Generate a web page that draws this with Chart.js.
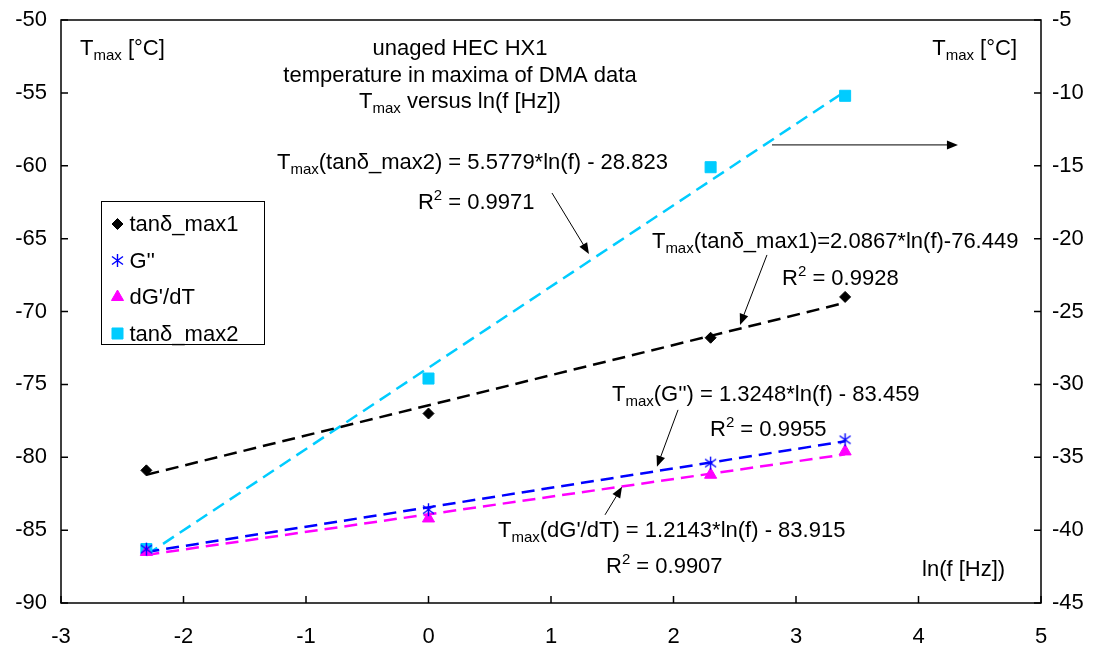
<!DOCTYPE html>
<html>
<head>
<meta charset="utf-8">
<title>unaged HEC HX1</title>
<script src="https://cdn.jsdelivr.net/npm/chart.js@4.4.0/dist/chart.umd.min.js"></script>
<style>
    body { margin: 0; background: #ffffff; }
</style>
</head>
<body>
<canvas id="myChart" width="1094" height="650"></canvas>
<script>
// ln(f) of the measured frequencies (0.1, 1, 10, 30 Hz)
var lnF = [-2.303, 0, 2.303, 3.401];

// Tmax values (left axis)
var tanD1 = [-80.9, -77.0, -71.8, -69.0];
var gTwo = [-86.3, -83.6, -80.4, -78.8];
var dGdT = [-86.5, -84.2, -81.2, -79.6];
// tanδ_max2 belongs to the right axis
var tanD2 = [-41.3, -29.6, -15.1, -10.2];

// trend line end points
var trendX = [-2.303, 3.401];
var trendTanD1 = [-81.2, -69.4];
var trendG = [-86.5, -78.9];
var trendDG = [-86.7, -79.8];
var trendTanD2 = [-41.7, -9.9];

// tick labels
var xTicks = [-3, -2, -1, 0, 1, 2, 3, 4, 5];
var yLeftTicks = [-90, -85, -80, -75, -70, -65, -60, -55, -50];
var yRightTicks = [-45, -40, -35, -30, -25, -20, -15, -10, -5];

var seriesNames = ['tanδ_max1', "G''", "dG'/dT", 'tanδ_max2'];

var FONT = '"Liberation Sans", Arial, sans-serif';

// texto das anotações (posição em unidades do gráfico)
// modo: 0 normal, 1 subscrito, 2 sobrescrito
var notes = [
    { x: -2.845, y: -52.40, align: 'left', parts: [['T', 0], ['max', 1], [' [°C]', 0]] },
    { x: 4.804, y: -52.40, align: 'right', parts: [['T', 0], ['max', 1], [' [°C]', 0]] },
    { x: 0.257, y: -52.40, align: 'center', parts: [['unaged HEC HX1', 0]] },
    { x: 0.257, y: -54.25, align: 'center', parts: [['temperature in maxima of DMA data', 0]] },
    { x: 0.257, y: -56.04, align: 'center', parts: [['T', 0], ['max', 1], [' versus ln(f [Hz])', 0]] },
    { x: -1.237, y: -60.22, align: 'left', parts: [['T', 0], ['max', 1], ['(tanδ_max2) = 5.5779*ln(f) - 28.823', 0]] },
    { x: -0.086, y: -62.96, align: 'left', parts: [['R', 0], ['2', 2], [' = 0.9971', 0]] },
    { x: 1.824, y: -65.64, align: 'left', parts: [['T', 0], ['max', 1], ['(tanδ_max1)=2.0867*ln(f)-76.449', 0]] },
    { x: 2.886, y: -68.18, align: 'left', parts: [['R', 0], ['2', 2], [' = 0.9928', 0]] },
    { x: 1.498, y: -76.13, align: 'left', parts: [['T', 0], ['max', 1], ["(G'') = 1.3248*ln(f) - 83.459", 0]] },
    { x: 2.298, y: -78.53, align: 'left', parts: [['R', 0], ['2', 2], [' = 0.9955', 0]] },
    { x: 0.567, y: -85.46, align: 'left', parts: [['T', 0], ['max', 1], ["(dG'/dT) = 1.2143*ln(f) - 83.915", 0]] },
    { x: 1.449, y: -87.93, align: 'left', parts: [['R', 0], ['2', 2], [' = 0.9907', 0]] },
    { x: 4.029, y: -88.13, align: 'left', parts: [['ln(f [Hz])', 0]] }
];

// setas: [x1, y1, x2, y2] em unidades do gráfico (eixo esquerdo)
var arrows = [
    [1.008, -61.87, 1.310, -66.05],
    [2.763, -66.12, 2.543, -70.92],
    [2.037, -76.75, 1.865, -80.66],
    [1.441, -83.95, 1.580, -82.03],
    [2.804, -58.57, 4.322, -58.57]
];

// canto superior esquerdo da legenda
var legendAt = { x: -2.673, y: -62.41 };

function makePoints(xs, ys) {
    return xs.map(function (x, i) { return { x: x, y: ys[i] }; });
}

// marcador "asterisco" para G''
function makeStar(color) {
    var c = document.createElement('canvas');
    c.width = 15;
    c.height = 15;
    var g = c.getContext('2d');
    g.strokeStyle = color;
    g.lineWidth = 1.4;
    g.beginPath();
    g.moveTo(7.5, 1); g.lineTo(7.5, 14);
    g.moveTo(2, 3.5); g.lineTo(13, 11.5);
    g.moveTo(2, 11.5); g.lineTo(13, 3.5);
    g.stroke();
    return c;
}

var starIcon = makeStar('#0000ff');

function drawRich(ctx, parts, x, y, align) {
    var w = 0;
    parts.forEach(function (p) {
        ctx.font = (p[1] ? '15px ' : '22px ') + FONT;
        w += ctx.measureText(p[0]).width;
    });
    var cx = x;
    if (align === 'center') cx = x - w / 2;
    if (align === 'right') cx = x - w;
    ctx.textAlign = 'left';
    ctx.textBaseline = 'alphabetic';
    parts.forEach(function (p) {
        ctx.font = (p[1] ? '15px ' : '22px ') + FONT;
        var dy = p[1] === 1 ? 5 : (p[1] === 2 ? -9 : 0);
        ctx.fillText(p[0], cx, y + dy);
        cx += ctx.measureText(p[0]).width;
    });
}

function drawArrow(ctx, x1, y1, x2, y2) {
    var ang = Math.atan2(y2 - y1, x2 - x1);
    var len = 11, half = 4.5;
    ctx.beginPath();
    ctx.moveTo(x1, y1);
    ctx.lineTo(x2 - Math.cos(ang) * len * 0.8, y2 - Math.sin(ang) * len * 0.8);
    ctx.stroke();
    ctx.beginPath();
    ctx.moveTo(x2, y2);
    ctx.lineTo(x2 - Math.cos(ang) * len + Math.sin(ang) * half, y2 - Math.sin(ang) * len - Math.cos(ang) * half);
    ctx.lineTo(x2 - Math.cos(ang) * len - Math.sin(ang) * half, y2 - Math.sin(ang) * len + Math.cos(ang) * half);
    ctx.closePath();
    ctx.fill();
}

var decorPlugin = {
    id: 'decor',
    afterDraw: function (chart) {
        var ctx = chart.ctx;
        var area = chart.chartArea;
        var sx = chart.scales.x, sy = chart.scales.y, sy1 = chart.scales.y1;
        ctx.save();

        // moldura do gráfico
        ctx.strokeStyle = '#000000';
        ctx.lineWidth = 1.5;
        ctx.strokeRect(area.left, area.top, area.right - area.left, area.bottom - area.top);

        // marcas dos eixos (para dentro)
        ctx.beginPath();
        sx.ticks.forEach(function (t) {
            var p = sx.getPixelForValue(t.value);
            ctx.moveTo(p, area.bottom);
            ctx.lineTo(p, area.bottom - 7);
        });
        sy.ticks.forEach(function (t) {
            var p = sy.getPixelForValue(t.value);
            ctx.moveTo(area.left, p);
            ctx.lineTo(area.left + 7, p);
        });
        sy1.ticks.forEach(function (t) {
            var p = sy1.getPixelForValue(t.value);
            ctx.moveTo(area.right, p);
            ctx.lineTo(area.right - 7, p);
        });
        ctx.stroke();

        // textos
        ctx.fillStyle = '#000000';
        notes.forEach(function (n) {
            drawRich(ctx, n.parts, sx.getPixelForValue(n.x), sy.getPixelForValue(n.y), n.align);
        });

        // setas
        ctx.lineWidth = 1;
        arrows.forEach(function (a) {
            drawArrow(ctx, sx.getPixelForValue(a[0]), sy.getPixelForValue(a[1]),
                sx.getPixelForValue(a[2]), sy.getPixelForValue(a[3]));
        });

        // legenda
        var lx = Math.round(sx.getPixelForValue(legendAt.x)) + 0.5;
        var ly = Math.round(sy.getPixelForValue(legendAt.y)) + 0.5;
        ctx.fillStyle = '#ffffff';
        ctx.fillRect(lx, ly, 163, 143);
        ctx.strokeStyle = '#000000';
        ctx.lineWidth = 1;
        ctx.strokeRect(lx, ly, 163, 143);
        for (var i = 0; i < 4; i++) {
            var ds = chart.data.datasets[i];
            var cy = ly + 22.5 + i * 36.5;
            ctx.fillStyle = ds.backgroundColor;
            ctx.strokeStyle = ds.borderColor;
            Chart.helpers.drawPoint(ctx, {
                pointStyle: ds.pointStyle,
                radius: ds.pointRadius,
                rotation: 0,
                borderWidth: 1
            }, lx + 16, cy);
            ctx.fillStyle = '#000000';
            ctx.font = '22px ' + FONT;
            ctx.textAlign = 'left';
            ctx.textBaseline = 'middle';
            ctx.fillText(seriesNames[i], lx + 28, cy + 1);
        }
        ctx.restore();
    }
};

function pointSet(label, xs, ys, color, style, radius, axis) {
    return {
        type: 'scatter',
        label: label,
        data: makePoints(xs, ys),
        yAxisID: axis,
        backgroundColor: color,
        borderColor: color,
        pointStyle: style,
        pointRadius: radius,
        pointBorderWidth: 1,
        showLine: false,
        order: 0
    };
}

function trendSet(label, ys, color, axis) {
    return {
        type: 'line',
        label: label,
        data: makePoints(trendX, ys),
        yAxisID: axis,
        borderColor: color,
        borderWidth: 2.5,
        borderDash: [13, 7],
        pointRadius: 0,
        fill: false,
        order: 1
    };
}

// remove o espaço extra que o Chart.js reserva para os rótulos
function fixX(s) {
    s.height = 47;
    s.paddingLeft = 0;
    s.paddingRight = 0;
}
function fixY(w) {
    return function (s) {
        s.width = w;
        s.paddingTop = 0;
        s.paddingBottom = 0;
    };
}

var ctx = document.getElementById('myChart').getContext('2d');
var myChart = new Chart(ctx, {
    data: {
        datasets: [
            pointSet(seriesNames[0], lnF, tanD1, '#000000', 'rectRot', 5.5, 'y'),
            pointSet(seriesNames[1], lnF, gTwo, '#0000ff', starIcon, 7, 'y'),
            pointSet(seriesNames[2], lnF, dGdT, '#ff00ff', 'triangle', 7, 'y'),
            pointSet(seriesNames[3], lnF, tanD2, '#00ccff', 'rect', 7.8, 'y1'),
            trendSet('trend tanδ_max1', trendTanD1, '#000000', 'y'),
            trendSet("trend G''", trendG, '#0000ff', 'y'),
            trendSet("trend dG'/dT", trendDG, '#ff00ff', 'y'),
            trendSet('trend tanδ_max2', trendTanD2, '#00ccff', 'y1')
        ]
    },
    options: {
        responsive: false,
        animation: false,
        layout: { padding: { top: 20, left: 0, right: 0, bottom: 0 } },
        plugins: {
            legend: { display: false },
            tooltip: { enabled: false }
        },
        scales: {
            x: {
                type: 'linear',
                min: -3,
                max: 5,
                afterBuildTicks: function (s) { s.ticks = xTicks.map(function (v) { return { value: v }; }); },
                afterFit: fixX,
                grid: { display: false, drawTicks: false },
                border: { display: false },
                ticks: { color: '#000000', padding: 21, font: { family: FONT, size: 22 } }
            },
            y: {
                type: 'linear',
                position: 'left',
                min: -90,
                max: -50,
                afterBuildTicks: function (s) { s.ticks = yLeftTicks.map(function (v) { return { value: v }; }); },
                afterFit: fixY(61),
                grid: { display: false, drawTicks: false },
                border: { display: false },
                ticks: { color: '#000000', padding: 14, font: { family: FONT, size: 22 } }
            },
            y1: {
                type: 'linear',
                position: 'right',
                min: -45,
                max: -5,
                afterBuildTicks: function (s) { s.ticks = yRightTicks.map(function (v) { return { value: v }; }); },
                afterFit: fixY(53),
                grid: { display: false, drawTicks: false },
                border: { display: false },
                ticks: { color: '#000000', padding: 11, font: { family: FONT, size: 22 } }
            }
        }
    },
    plugins: [decorPlugin]
});
</script>
</body>
</html>
